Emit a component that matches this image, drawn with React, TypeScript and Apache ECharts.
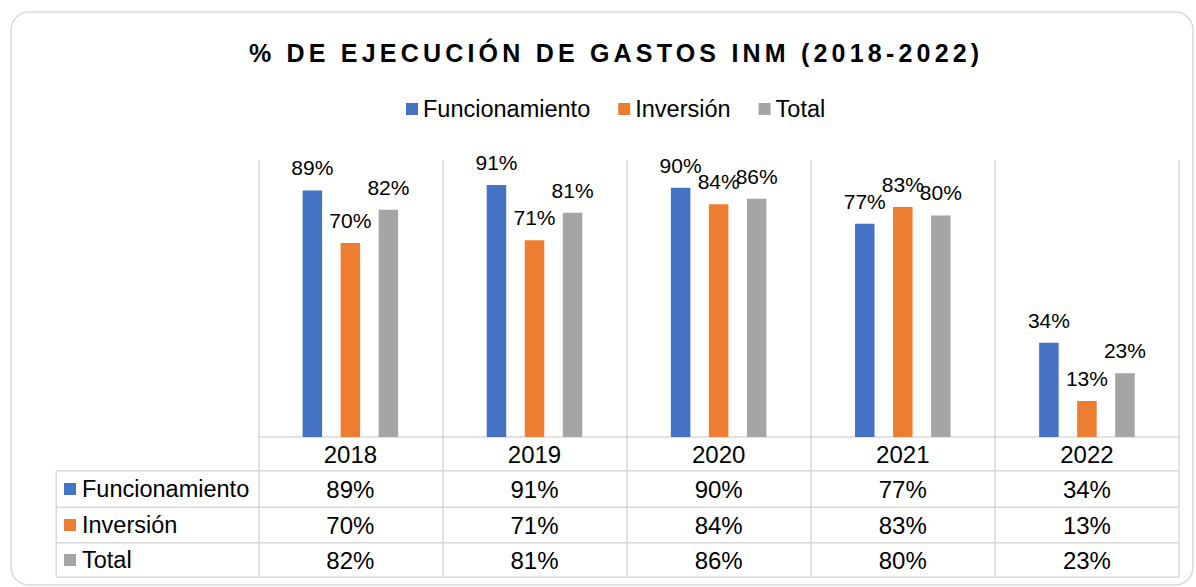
import React, { useEffect, useRef } from 'react';
import * as echarts from 'echarts';

const TITLE = '% DE EJECUCIÓN DE GASTOS INM (2018-2022)';
const years = ['2018', '2019', '2020', '2021', '2022'];
const seriesNames = ['Funcionamiento', 'Inversión', 'Total'];
const funcionamiento = [89, 91, 90, 77, 34];
const inversion = [70, 71, 84, 83, 13];
const total = [82, 81, 86, 80, 23];
const colors = ['#4472C4', '#ED7D31', '#A5A5A5'];

export default function App() {
  const ref = useRef<HTMLDivElement>(null);

  useEffect(() => {
    const el = ref.current!;
    const chart = echarts.init(el, null, { renderer: 'svg' });
    const seriesValues = [funcionamiento, inversion, total];
    const FONT = '"Liberation Sans", Arial, sans-serif';
    const GRID_LEFT = 258.3;
    const GRID_RIGHT = 1179;
    const GRID_TOP = 160;
    const AXIS_Y = 437;
    const TABLE_LEFT = 56.3;
    const rowLines = [470.7, 507.3, 542.7, 577.3];
    const rowCenters = [489, 525, 560];
    const lineColor = '#d9d9d9';

    const tableAxes = seriesValues.map((vals, i) => ({
      type: 'category',
      data: years,
      gridIndex: 0,
      position: 'bottom',
      offset: 0,
      axisLine: { show: false },
      axisTick: { show: false },
      splitLine: { show: false },
      axisLabel: {
        interval: 0,
        margin: rowCenters[i] - AXIS_Y,
        verticalAlign: 'middle',
        fontSize: 24,
        color: '#000',
        fontFamily: FONT,
        formatter: (_v: string, idx: number) => vals[idx] + '%',
      },
    }));

    const graphics: any[] = [
      {
        type: 'rect',
        shape: { x: 11, y: 12, width: 1182, height: 573, r: 18 },
        style: { fill: 'none', stroke: lineColor, lineWidth: 1.5 },
        silent: true,
      },
      {
        type: 'text',
        x: 249,
        y: 52.5,
        style: {
          text: TITLE,
          font: `bold 25px ${FONT}`,
          fill: '#000',
          align: 'left',
          verticalAlign: 'middle',
        },
      },
    ];
    rowLines.forEach((y) => {
      graphics.push({
        type: 'line',
        shape: { x1: TABLE_LEFT, y1: y, x2: GRID_RIGHT, y2: y },
        style: { stroke: lineColor, lineWidth: 1.5 },
        silent: true,
      });
    });
    graphics.push({
      type: 'line',
      shape: { x1: TABLE_LEFT, y1: rowLines[0], x2: TABLE_LEFT, y2: rowLines[rowLines.length - 1] },
      style: { stroke: lineColor, lineWidth: 1.5 },
      silent: true,
    });
    seriesNames.forEach((name, i) => {
      graphics.push({
        type: 'rect',
        shape: { x: 64, y: rowCenters[i] - 6, width: 12, height: 12 },
        style: { fill: colors[i] },
      });
      graphics.push({
        type: 'text',
        x: 82,
        y: rowCenters[i],
        style: {
          text: name,
          font: `23.5px ${FONT}`,
          fill: '#000',
          align: 'left',
          verticalAlign: 'middle',
        },
      });
    });

    chart.setOption({
      animation: false,
      backgroundColor: '#fff',
      textStyle: { fontFamily: FONT },
      legend: {
        data: seriesNames,
        left: 401,
        top: 92,
        itemWidth: 12,
        itemHeight: 12,
        itemGap: 28,
        icon: 'rect',
        selectedMode: false,
        textStyle: { fontSize: 23.5, color: '#000', fontFamily: FONT },
      },
      grid: {
        left: GRID_LEFT,
        right: 1196 - GRID_RIGHT,
        top: GRID_TOP,
        bottom: 587 - AXIS_Y,
        containLabel: false,
        outerBoundsMode: 'none',
      },
      xAxis: [
        {
          type: 'category',
          data: years,
          position: 'bottom',
          axisLine: { show: true, lineStyle: { color: lineColor, width: 1.5 } },
          axisTick: { show: true, interval: 0, length: rowLines[rowLines.length - 1] - AXIS_Y, lineStyle: { color: lineColor, width: 1.5 } },
          splitLine: { show: true, interval: 0, lineStyle: { color: lineColor, width: 1.5 } },
          axisLabel: {
            interval: 0,
            margin: 17,
            verticalAlign: 'middle',
            fontSize: 24,
            color: '#000',
            fontFamily: FONT,
          },
        },
        ...tableAxes,
      ],
      yAxis: {
        type: 'value',
        min: 0,
        max: 100,
        show: false,
        splitLine: { show: false },
      },
      series: seriesNames.map((name, i) => ({
        name,
        type: 'bar',
        data: seriesValues[i],
        xAxisIndex: 0,
        barWidth: 19.5,
        barGap: '95%',
        itemStyle: { color: colors[i] },
        label: {
          show: true,
          position: 'top',
          distance: 12,
          fontSize: 21,
          color: '#000',
          fontFamily: FONT,
          formatter: (p: any) => p.value + '%',
        },
      })),
      graphic: graphics,
    });

    const applySpacing = () => {
      el.querySelectorAll('text').forEach((t) => {
        if (t.textContent === TITLE) t.setAttribute('letter-spacing', '4.2');
      });
    };
    applySpacing();
    chart.on('finished', applySpacing);
    chart.on('rendered', applySpacing);
    const timer = setTimeout(applySpacing, 50);

    return () => {
      clearTimeout(timer);
      chart.dispose();
    };
  }, []);

  return (
    <div
      ref={ref}
      style={{ position: 'absolute', left: 0, top: 0, width: 1196, height: 587, background: '#fff' }}
    />
  );
}
